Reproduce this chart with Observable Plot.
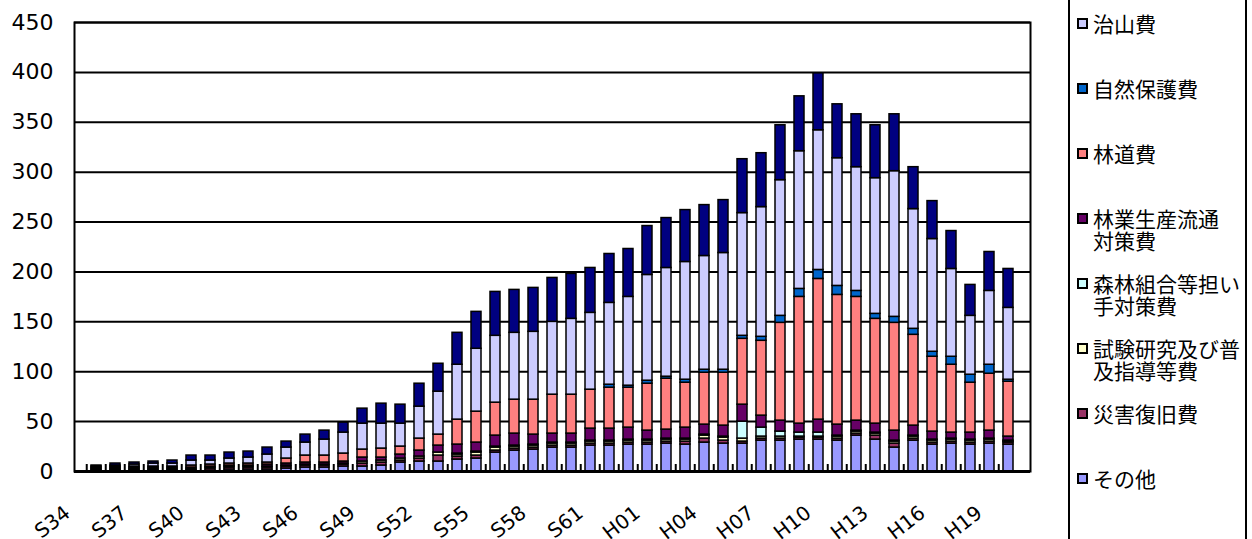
<!DOCTYPE html>
<html><head><meta charset="utf-8">
<script src="https://cdn.jsdelivr.net/npm/d3@7"></script>
<script src="https://cdn.jsdelivr.net/npm/@observablehq/plot@0.6"></script>
<style>
html,body{margin:0;padding:0;background:#fff;overflow:hidden;}
#wrap{position:relative;width:1252px;height:539px;overflow:hidden;background:#fff;}
#legend{position:absolute;left:1068px;top:-20px;width:175px;height:600px;border:2px solid #000;background:#fff;font-family:"Noto Sans CJK JP",sans-serif;font-size:21px;color:#000;}
.sw{position:absolute;left:7px;width:7px;height:7px;border:2px solid #000;}
.lbl{position:absolute;left:23px;line-height:22px;white-space:nowrap;}
</style></head>
<body><div id="wrap"><div id="chart"></div><div id="legend"></div></div>
<script>
const years = ["S34","S35","S36","S37","S38","S39","S40","S41","S42","S43",
  "S44","S45","S46","S47","S48","S49","S50","S51","S52","S53",
  "S54","S55","S56","S57","S58","S59","S60","S61","S62","S63",
  "H01","H02","H03","H04","H05","H06","H07","H08","H09","H10",
  "H11","H12","H13","H14","H15","H16","H17","H18","H19"];
const xLabels = ["S34","S37","S40","S43","S46","S49","S52","S55","S58","S61","H01","H04","H07","H10","H13","H16","H19"];
const yTicks = [0,50,100,150,200,250,300,350,400,450];

// series, bottom to top
const sonota   = [1,1,1,1,1,1,1,2,2,2, 3,4,4,5,5,6,9,10,10,12, 13,19,21,22,24,24,26,26,27,27, 28,27,29,28,28,31,31,32,32,31, 36,32,24,31,27,28,27,28,27];
const saigai   = [1,1,1,1,1,1,2,2,2,2, 2,2,2,2,3,3,2,3,6,3, 3,2,2,2,2,2,2,2,2,2, 2,3,4,3,2,2,2,2,2,2, 2,4,4,2,2,2,2,2,2];
const shiken   = [1,1,1,1,1,1,1,1,1,1, 1,1,1,1,2,2,2,2,3,2, 3,3,2,2,2,2,2,2,2,2, 2,2,3,3,3,2,2,1,1,2, 2,2,2,2,2,2,2,2,1];
const kumiai   = [0,0,0,0,0,0,0,0,0,0, 0,0,0,0,0,0,0,0,0,1, 1,1,1,1,1,1,1,1,1,1, 1,1,1,1,17,9,5,4,4,1, 1,1,1,1,1,1,1,1,1];
const ringyo   = [1,1,1,1,1,1,1,1,1,2, 2,2,2,2,4,3,4,6,7,9, 9,11,12,10,9,9,12,12,12,9, 9,11,10,11,17,12,11,9,13,11, 10,9,10,10,8,6,7,8,4];
const rindo    = [0,1,1,1,1,2,2,2,2,2, 5,7,7,8,8,9,8,12,11,25, 31,33,34,35,39,39,39,41,40,47, 51,45,52,53,66,75,98,127,141,130, 124,105,108,91,75,68,50,57,55];
const shizen   = [0,0,0,0,0,0,0,0,0,0, 0,0,0,0,0,0,0,0,0,0, 0,0,0,0,0,0,0,3,2,3, 2,3,3,3,3,4,7,8,9,9, 6,5,6,6,5,8,8,9,2];
const chisan   = [1,1,2,3,3,5,4,5,6,8, 11,13,16,21,26,25,23,32,43,55, 63,67,67,68,73,76,77,82,89,106, 109,118,114,117,123,130,136,138,140,128, 124,136,146,120,113,88,59,74,72];
const zorin    = [1,2,2,2,3,5,5,6,6,7, 6,8,9,10,15,20,19,23,28,32, 37,44,43,44,44,45,45,49,48,49, 50,52,51,53,54,54,55,55,57,54, 53,53,57,42,38,38,31,39,39];

const seriesNames = ["その他","災害復旧費","試験研究及び普及指導等費","森林組合等担い手対策費","林業生産流通対策費","林道費","自然保護費","治山費","造林費"];
const seriesColors = ["#9999FF","#993366","#FFFFCC","#CCFFFF","#660066","#FF8080","#0066CC","#CCCCFF","#000080"];
const seriesValues = [sonota,saigai,shiken,kumiai,ringyo,rindo,shizen,chisan,zorin];

// legend (top-most visible first), with line breaks as in the original
const legendSeries = ["治山費","自然保護費","林道費","林業生産流通対策費","森林組合等担い手対策費","試験研究及び普及指導等費","災害復旧費","その他"];
const legendLines = [["治山費"],["自然保護費"],["林道費"],["林業生産流通","対策費"],["森林組合等担い","手対策費"],["試験研究及び普","及指導等費"],["災害復旧費"],["その他"]];

const rows = [];
seriesNames.forEach((s, k) => {
  seriesValues[k].forEach((v, i) => { if (v > 0) rows.push({year: years[i], series: s, value: v}); });
});

const W = 1252, H = 539, ML = 74, MR = 222, MT = 22, MB = 68;
const step = (W - ML - MR) / years.length;

const chart = Plot.plot({
  width: W, height: H,
  marginLeft: ML, marginRight: MR, marginTop: MT, marginBottom: MB,
  style: {fontFamily: "'DejaVu Sans', sans-serif", background: "white", color: "black"},
  x: {type: "band", domain: years, paddingInner: 0.5, paddingOuter: 0.25, axis: null},
  y: {domain: [0, 450], axis: null},
  color: {domain: seriesNames, range: seriesColors},
  marks: [
    Plot.ruleY(yTicks, {stroke: "#000", strokeWidth: 2}),
    Plot.barY(rows, {x: "year", y: "value", fill: "series", stroke: "#000", strokeWidth: 1.5}),
    Plot.ruleX(years, {x: d => d, y1: 0, y2: 7, dx: -step / 2, stroke: "#000", strokeWidth: 2}),
    Plot.frame({stroke: "#000", strokeWidth: 2}),
    Plot.ruleY([0], {stroke: "#000", strokeWidth: 3}),
    Plot.axisY(yTicks, {tickSize: 0, tickPadding: 21, fontSize: 22, fill: "#000", label: null}),
    Plot.text(xLabels, {x: d => d, y: 0, text: d => d, rotate: -38, textAnchor: "end", lineAnchor: "bottom", dx: -25, dy: 44, fontSize: 20, fill: "#000"})
  ]
});
document.getElementById("chart").appendChild(chart);

const leg = document.getElementById("legend");
legendSeries.forEach((s, i) => {
  const c = 41 + 65 * i;
  const sw = document.createElement("div");
  sw.className = "sw";
  sw.style.top = (c - 5.5) + "px";
  sw.style.background = seriesColors[seriesNames.indexOf(s)];
  leg.appendChild(sw);
  const lb = document.createElement("div");
  lb.className = "lbl";
  lb.style.top = (c - 11) + "px";
  lb.innerHTML = legendLines[i].join("<br>");
  leg.appendChild(lb);
});
</script></body></html>
